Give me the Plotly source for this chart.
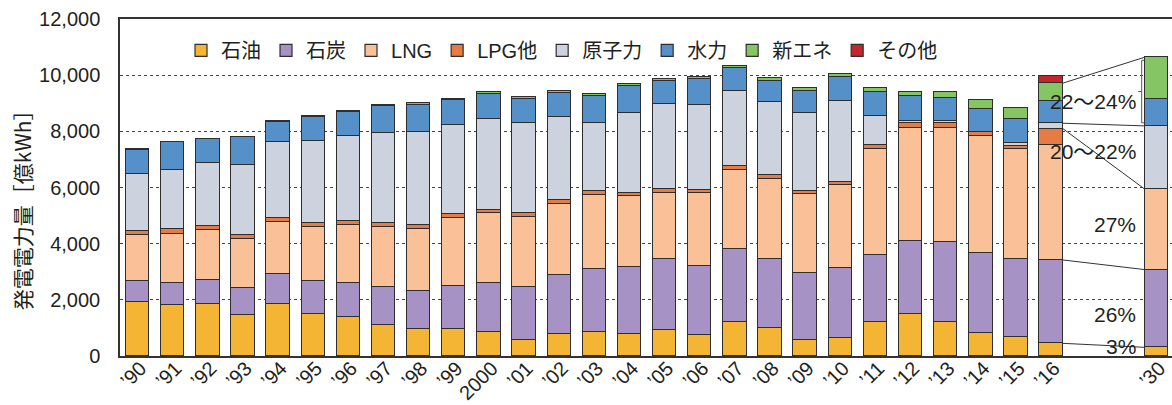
import numpy as np
import plotly.graph_objects as go

# ---------------- data ----------------
years = ["’90", "’91", "’92", "’93", "’94", "’95", "’96", "’97", "’98", "’99",
         "2000", "’01", "’02", "’03", "’04", "’05", "’06", "’07", "’08", "’09",
         "’10", "’11", "’12", "’13", "’14", "’15", "’16", "’30"]

oil = [1924, 1805, 1841, 1449, 1841, 1485, 1378, 1093, 950, 950,
       843, 570, 784, 855, 784, 914, 760, 1199, 986, 558,
       635, 1199, 1496, 1223, 819, 677, 451, 309]
coal = [736, 784, 867, 974, 1069, 1187, 1235, 1353, 1366, 1556,
        1746, 1900, 2102, 2257, 2399, 2530, 2447, 2601, 2482, 2399,
        2506, 2399, 2601, 2850, 2839, 2779, 2969, 2767]
lng = [1639, 1758, 1769, 1745, 1864, 1912, 2042, 2150, 2209, 2411,
       2494, 2482, 2529, 2624, 2506, 2363, 2588, 2827, 2838, 2815,
       2957, 3789, 4014, 4062, 4192, 3907, 4085, 2862]
lpg = [143, 166, 166, 155, 155, 143, 155, 143, 142, 142,
       131, 143, 155, 154, 130, 143, 131, 130, 131, 95,
       95, 119, 179, 155, 143, 107, 594, 0]
nuclear = [2030, 2126, 2221, 2470, 2684, 2933, 3016, 3206, 3326, 3159,
           3218, 3206, 2945, 2399, 2827, 3028, 3028, 2696, 2601, 2803,
           2904, 1033, 83, 95, 0, 107, 190, 2256]
hydro = [879, 974, 855, 998, 724, 867, 855, 962, 962, 891,
         891, 867, 867, 974, 974, 820, 915, 796, 772, 771,
         843, 867, 890, 807, 795, 855, 808, 951]
new_energy = [10, 15, 18, 20, 15, 24, 36, 47, 59, 59,
              71, 59, 71, 83, 71, 71, 83, 83, 83, 95,
              107, 131, 143, 202, 321, 416, 618, 1496]
other = [0, 0, 0, 0, 0, 0, 0, 0, 0, 0,
         0, 0, 0, 0, 0, 0, 0, 0, 0, 0,
         0, 0, 0, 0, 0, 0, 238, 0]

series_names = ["石油", "石炭", "LNG", "LPG他", "原子力", "水力", "新エネ", "その他"]
series_values = [oil, coal, lng, lpg, nuclear, hydro, new_energy, other]
colors = ["#F4B434", "#A692C5", "#FAC198", "#E57B45", "#CCD2DE", "#5591C8", "#86C564", "#C1272D"]

pct_labels = ["22〜24%", "20〜22%", "27%", "26%", "3%"]
y_ticks = [0, 2000, 4000, 6000, 8000, 10000, 12000]
y_title = "発電電力量［億kWh］"

# ---------------- layout helpers ----------------
n_hist = len(years) - 1
xpos = list(range(n_hist)) + [n_hist - 1 + 3]   # '30 placed after a gap
bar_w = 0.665
txt = "#231F20"
latin = "Liberation Sans, Arial, Noto Sans CJK JP, sans-serif"
cjk = "Noto Sans CJK JP, sans-serif"

fig = go.Figure()
for name, vals, col in zip(series_names, series_values, colors):
    fig.add_trace(go.Bar(
        x=xpos, y=vals, name=name, width=bar_w,
        marker=dict(color=col, line=dict(color="#2E2E2E", width=1.2)),
    ))

# connecting lines between '16 and '30
stack = np.cumsum(np.array(series_values), axis=0)  # cumulative tops
i16, i30 = n_hist - 1, n_hist
x0 = xpos[i16] + bar_w / 2
x1 = xpos[i30] - bar_w / 2
pairs = [
    (stack[0, i16], stack[0, i30]),   # oil top
    (stack[1, i16], stack[1, i30]),   # coal top
    (stack[3, i16], stack[2, i30]),   # nuclear bottom
    (stack[4, i16], stack[4, i30]),   # nuclear top
    (stack[6, i16], stack[7, i30]),   # renewables top
]
shapes = []
for ya, yb in pairs:
    shapes.append(dict(type="line", xref="x", yref="y", x0=x0, y0=ya, x1=x1, y1=yb,
                       line=dict(color="#333333", width=1)))

# bracket next to renewables of '30
b_lo = stack[4, i30] + 110
b_hi = stack[7, i30] - 110
b_mid = (b_lo + b_hi) / 2
bx = x1 - 0.09
shapes.append(dict(type="path", xref="x", yref="y",
                   path=f"M {x1-0.02},{b_hi} L {bx},{b_hi} L {bx},{b_lo} L {x1-0.02},{b_lo}",
                   line=dict(color="#555555", width=1)))
shapes.append(dict(type="line", xref="x", yref="y", x0=bx - 0.1, x1=bx, y0=b_mid, y1=b_mid,
                   line=dict(color="#555555", width=1)))

label_y = [9060, 7280, 4667, 1470, 338]
annotations = []
for t, yv in zip(pct_labels, label_y):
    annotations.append(dict(x=28.47, y=yv, xref="x", yref="y", text=t, showarrow=False,
                            xanchor="right", yanchor="middle",
                            font=dict(family=latin, size=21, color=txt)))

# y-axis title as rotated annotation (placed slightly below centre as in the original)
annotations.append(dict(x=-0.093, y=0.448, xref="paper", yref="paper", text=y_title,
                        showarrow=False, textangle=-90, xanchor="center", yanchor="middle",
                        font=dict(family=cjk, size=21, color=txt)))

fig.update_layout(
    width=1172, height=405,
    margin=dict(l=120, r=0, t=19, b=49),
    barmode="stack",
    bargap=0,
    plot_bgcolor="white", paper_bgcolor="white",
    showlegend=True,
    legend=dict(orientation="h", x=0.058, y=0.965, xanchor="left", yanchor="top",
                font=dict(family=latin, size=20, color=txt),
                bgcolor="rgba(0,0,0,0)", traceorder="normal",
                itemwidth=30, tracegroupgap=0),
    xaxis=dict(
        range=[-0.5, 29.44], automargin=False,
        tickmode="array", tickvals=xpos, ticktext=years,
        tickangle=-45, tickfont=dict(family=latin, size=20, color=txt),
        ticklabelstandoff=-9, ticklabelshift=3,
        showgrid=False, zeroline=False,
        showline=True, linecolor="#333333", linewidth=1.5, mirror=True,
        ticks="",
    ),
    yaxis=dict(
        range=[0, 12000], automargin=False,
        tickmode="array", tickvals=y_ticks, ticktext=[f"{v:,}" for v in y_ticks],
        tickfont=dict(family=latin, size=20, color=txt),
        showgrid=True, gridcolor="#444444", gridwidth=1, griddash="dot",
        zeroline=False, showline=True, linecolor="#333333", linewidth=1.5,
        ticks="", ticklabelstandoff=14,
    ),
    shapes=shapes,
    annotations=annotations,
)

fig.write_html("out.html")
